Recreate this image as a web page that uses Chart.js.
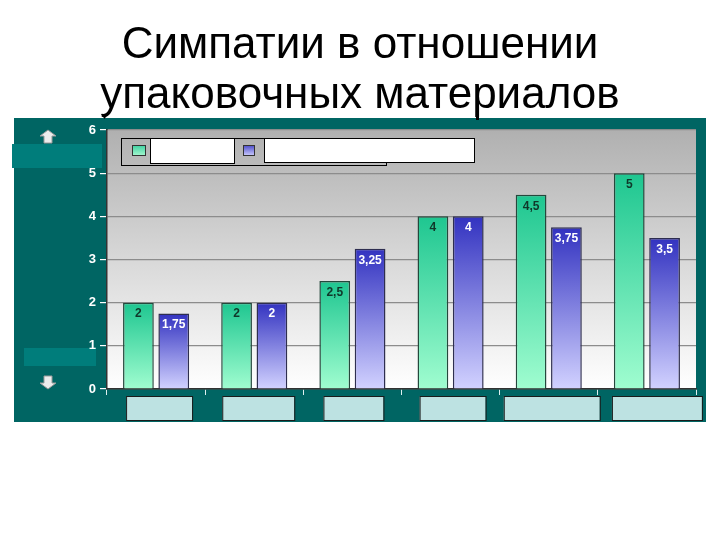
<!DOCTYPE html>
<html>
<head>
<meta charset="utf-8">
<script src="https://cdn.jsdelivr.net/npm/chart.js@4.4.0/dist/chart.umd.min.js"></script>
<style>
html, body { margin: 0; padding: 0; background: #fff; }
#wrap { position: relative; width: 720px; height: 540px; overflow: hidden; }
#chart { position: absolute; left: 0; top: 0; }
#title {
    position: absolute; left: 0; top: 18px; width: 720px; text-align: center;
    font-family: "Liberation Sans", Arial, sans-serif; font-size: 44px; line-height: 50px; color: #000;
}
</style>
</head>
<body>
<div id="wrap">
    <canvas id="chart" width="720" height="540"></canvas>
    <div id="title">Симпатии в отношении<br>упаковочных материалов</div>
</div>
<script>
// category names are hidden behind blank boxes in the picture
const categories = ['', '', '', '', '', ''];
const seriesA = [2, 2, 2.5, 4, 4.5, 5];
const seriesB = [1.75, 2, 3.25, 4, 3.75, 3.5];
const yMin = 0;
const yMax = 6;
const yStep = 1;

// blank label boxes under the x axis: [shift from tick, width]
const labelBoxes = [[3, 66], [4, 72], [1, 60], [2, 66], [3, 96], [10, 90]];

function barFill(top, bottom) {
    return function (ctx) {
        const chart = ctx.chart;
        const y = chart.scales.y;
        if (!chart.chartArea || !y || ctx.type !== 'data') return top;
        const y0 = y.getPixelForValue(ctx.raw);
        const y1 = y.getPixelForValue(0);
        const g = chart.ctx.createLinearGradient(0, y0, 0, y1);
        g.addColorStop(0, top);
        g.addColorStop(1, bottom);
        return g;
    };
}

function arrow(c, x, tipY, dir) {
    c.save();
    c.fillStyle = '#ececec';
    c.strokeStyle = '#9a9a9a';
    c.lineWidth = 1;
    c.beginPath();
    c.moveTo(x, tipY);
    c.lineTo(x + 8, tipY + 6 * dir);
    c.lineTo(x + 4, tipY + 6 * dir);
    c.lineTo(x + 4, tipY + 13 * dir);
    c.lineTo(x - 4, tipY + 13 * dir);
    c.lineTo(x - 4, tipY + 6 * dir);
    c.lineTo(x - 8, tipY + 6 * dir);
    c.closePath();
    c.fill();
    c.stroke();
    c.restore();
}

const backdrop = {
    id: 'backdrop',
    beforeDraw(chart) {
        const c = chart.ctx;
        const a = chart.chartArea;
        c.save();
        c.fillStyle = '#006563';
        c.fillRect(14, 118, 692, 304);
        c.fillStyle = '#007d7b';
        c.fillRect(12, 144, 90, 24);
        c.fillRect(24, 348, 72, 18);
        const g = c.createLinearGradient(0, a.top, 0, a.bottom);
        g.addColorStop(0, '#b0b0b0');
        g.addColorStop(0.55, '#dcdcdc');
        g.addColorStop(1, '#ffffff');
        c.fillStyle = g;
        c.fillRect(a.left, a.top, a.right - a.left, a.bottom - a.top);
        c.fillStyle = '#000';
        c.fillRect(476, 114, 3, 6);
        c.beginPath();
        c.moveTo(101, 114); c.lineTo(108, 114); c.lineTo(104.5, 119);
        c.fill();
        c.restore();
        arrow(c, 48, 130, 1);
        arrow(c, 48, 389, -1);
    }
};

const valueLabels = {
    id: 'valueLabels',
    afterDatasetsDraw(chart) {
        const c = chart.ctx;
        c.save();
        c.font = 'bold 12px "Liberation Sans", Arial, sans-serif';
        c.textAlign = 'center';
        c.textBaseline = 'middle';
        chart.data.datasets.forEach((ds, i) => {
            c.fillStyle = i === 0 ? '#10382a' : '#ffffff';
            chart.getDatasetMeta(i).data.forEach((bar, j) => {
                c.fillText(String(ds.data[j]).replace('.', ','), bar.x, bar.y + 11.5);
            });
        });
        c.restore();
    }
};

const blankBoxes = {
    id: 'blankBoxes',
    afterDraw(chart) {
        const c = chart.ctx;
        const a = chart.chartArea;
        const x = chart.scales.x;
        c.save();
        c.lineWidth = 1;
        c.strokeStyle = '#1a1a1a';
        labelBoxes.forEach(([shift, w], i) => {
            const cx = x.getPixelForTick(i) + shift;
            c.fillStyle = '#bde2e2';
            c.fillRect(cx - w / 2, a.bottom + 7.5, w, 24);
            c.strokeRect(cx - w / 2 + 0.5, a.bottom + 7.5, w, 24);
        });
        // legend frame with blank label boxes
        const lx = a.left + 14, ly = a.top + 8;
        c.strokeStyle = '#000';
        c.strokeRect(lx + 0.5, ly + 0.5, 265, 27);
        c.fillStyle = '#ffffff';
        c.fillRect(lx + 29, ly, 84, 25);
        c.strokeRect(lx + 29.5, ly + 0.5, 84, 25);
        c.fillRect(lx + 143, ly, 210, 24);
        c.strokeRect(lx + 143.5, ly + 0.5, 210, 24);
        let g = c.createLinearGradient(0, ly + 7, 0, ly + 18);
        g.addColorStop(0, '#3cd0a0'); g.addColorStop(1, '#a8f8d0');
        c.fillStyle = g;
        c.fillRect(lx + 11, ly + 7, 14, 11);
        c.strokeStyle = '#333';
        c.strokeRect(lx + 11.5, ly + 7.5, 13, 10);
        g = c.createLinearGradient(0, ly + 7, 0, ly + 18);
        g.addColorStop(0, '#4848c8'); g.addColorStop(1, '#d0d0ff');
        c.fillStyle = g;
        c.fillRect(lx + 122, ly + 7, 12, 11);
        c.strokeRect(lx + 122.5, ly + 7.5, 11, 10);
        c.restore();
    }
};

new Chart(document.getElementById('chart').getContext('2d'), {
    type: 'bar',
    data: {
        labels: categories,
        datasets: [{
            label: 'A',
            data: seriesA,
            backgroundColor: barFill('#1ec690', '#a0fdd0'),
            borderColor: '#24483c',
            borderWidth: 1.5,
            barPercentage: 0.87,
            categoryPercentage: 0.72
        }, {
            label: 'B',
            data: seriesB,
            backgroundColor: barFill('#3232c0', '#d2d2ff'),
            borderColor: '#2e2e50',
            borderWidth: 1.5,
            barPercentage: 0.87,
            categoryPercentage: 0.72
        }]
    },
    options: {
        responsive: false,
        animation: false,
        layout: { padding: { left: 14, right: 24, top: 130, bottom: 118 } },
        plugins: { legend: { display: false }, tooltip: { enabled: false } },
        scales: {
            x: {
                afterFit: s => { s.height = 33; },
                grid: { drawOnChartArea: false, tickColor: '#e0f0f0', tickLength: 6, offset: true },
                border: { color: '#333', width: 1.5 },
                ticks: { display: false }
            },
            y: {
                min: yMin,
                max: yMax,
                afterFit: s => { s.width = 93; },
                ticks: {
                    stepSize: yStep,
                    color: '#ffffff',
                    padding: 4,
                    font: { family: '"Liberation Sans", Arial, sans-serif', size: 13, weight: 'bold' }
                },
                grid: { color: '#8c8c8c', tickColor: '#ffffff', tickLength: 7, lineWidth: 1.2 },
                border: { color: '#333', width: 1.5 }
            }
        }
    },
    plugins: [backdrop, valueLabels, blankBoxes]
});
</script>
</body>
</html>
